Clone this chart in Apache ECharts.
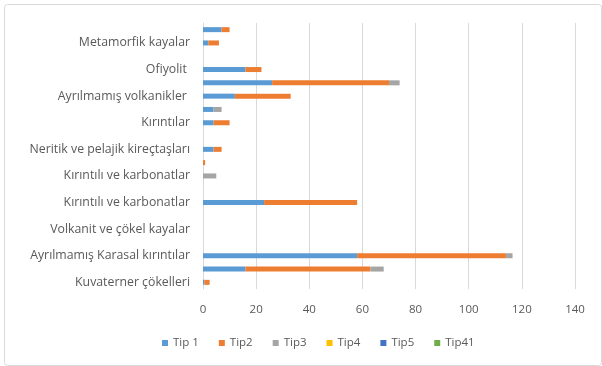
<!DOCTYPE html>
<html><head><meta charset="utf-8">
<script src="https://cdn.jsdelivr.net/npm/echarts@6/dist/echarts.min.js"></script>
<style>html,body{margin:0;padding:0;background:#fff}#c{width:602px;height:366px}</style>
</head><body><div id="c"></div>
<script>
// categories bottom -> top (Excel order)
const categories = [
  "Kuvaterner çökelleri", "Kategori 2",
  "Ayrılmamış Karasal kırıntılar", "Kategori 4",
  "Volkanit ve çökel kayalar", "Kategori 6",
  "Kırıntılı ve karbonatlar", "Kategori 8",
  "Kırıntılı ve karbonatlar", "Kategori 10",
  "Neritik ve pelajik kireçtaşları", "Kategori 12",
  "Kırıntılar", "Kategori 14",
  "Ayrılmamış volkanikler ", "Kategori 16",
  "Ofiyolit ", "Kategori 18",
  "Metamorfik kayalar", "Kategori 20"
];
const seriesNames = ["Tip 1", "Tip2", "Tip3", "Tip4", "Tip5", "Tip41"];
const tip1  = [0.5, 16, 58, 0, 0, 0, 23, 0, 0, 0, 4, 0, 4, 4, 12, 26, 16, 0, 2, 7];
const tip2  = [2, 47, 56, 0, 0, 0, 35, 0, 0, 0.8, 3, 0, 6, 0, 21, 44, 6, 0, 4, 3];
const tip3  = [0, 5, 2.5, 0, 0, 0, 0, 0, 5, 0, 0, 0, 0, 3, 0, 4, 0, 0, 0, 0];
const tip4  = [0, 0, 0, 0, 0, 0, 0, 0, 0, 0, 0, 0, 0, 0, 0, 0, 0, 0, 0, 0];
const tip5  = [0, 0, 0, 0, 0, 0, 0, 0, 0, 0, 0, 0, 0, 0, 0, 0, 0, 0, 0, 0];
const tip41 = [0, 0, 0, 0, 0, 0, 0, 0, 0, 0, 0, 0, 0, 0, 0, 0, 0, 0, 0, 0];
const xTicks = [0, 20, 40, 60, 80, 100, 120, 140];

const colors = ["#5B9BD5", "#ED7D31", "#A5A5A5", "#FFC000", "#4472C4", "#70AD47"];
const allData = [tip1, tip2, tip3, tip4, tip5, tip41];
const font = "'Open Sans', sans-serif";

const chart = echarts.init(document.getElementById('c'), null, {renderer: 'canvas'});
chart.setOption({
  animation: false,
  color: colors,
  graphic: [{
    type: 'rect', left: 2, top: 2,
    shape: {width: 597, height: 361, r: 3},
    style: {fill: 'none', stroke: '#d9d9d9', lineWidth: 1}, silent: true
  }],
  grid: {left: 203, right: 27, top: 23, bottom: 77, containLabel: false},
  xAxis: {
    type: 'value', min: xTicks[0], max: xTicks[xTicks.length - 1], interval: 20,
    axisLine: {show: false}, axisTick: {show: false},
    splitLine: {lineStyle: {color: '#d9d9d9', width: 1}},
    axisLabel: {color: '#595959', fontFamily: font, fontSize: 11.5, margin: 15}
  },
  yAxis: {
    type: 'category', data: categories,
    axisLine: {show: true, lineStyle: {color: '#d9d9d9'}},
    axisTick: {show: false},
    axisLabel: {interval: 1, color: '#595959', fontFamily: font, fontSize: 12.3, margin: 13}
  },
  legend: {
    bottom: 12, left: 157, icon: 'rect', itemWidth: 6, itemHeight: 6, itemGap: 20,
    textStyle: {color: '#595959', fontFamily: font, fontSize: 11.5},
    data: seriesNames
  },
  series: seriesNames.map((n, i) => ({
    name: n, type: 'bar', stack: 'total', barWidth: 5,
    data: allData[i]
  }))
});
</script></body></html>
